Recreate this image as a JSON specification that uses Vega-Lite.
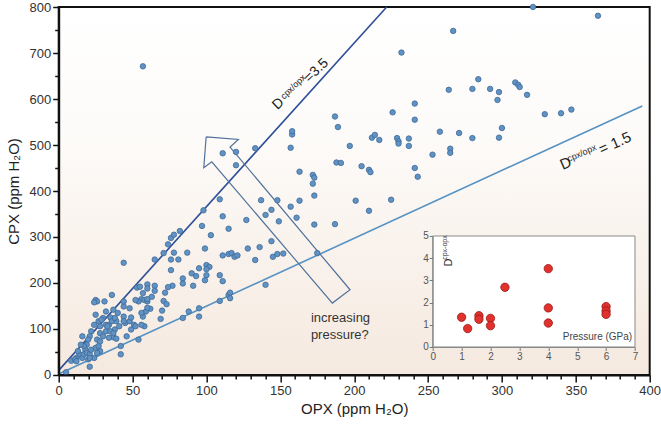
{
"$schema": "https://vega.github.io/schema/vega-lite/v6.json",
"width": 591, "height": 368,
"autosize": "none",
"padding": {"left": 58.7, "top": 7, "right": 11, "bottom": 49},
"background": "white",
"config": {
  "font": "Liberation Sans",
  "axis": {"grid": false},
  "view": {"stroke": "#111", "strokeWidth": 2,
    "fill": {"gradient": "linear", "x1": 0, "y1": 0, "x2": 0, "y2": 1,
      "stops": [{"offset": 0, "color": "#ffffff"}, {"offset": 0.35, "color": "#fdfbf9"}, {"offset": 1, "color": "#f5e9df"}]}}
},
"datasets": {
  "pts": [
{"opx":8.5,"cpx":31},{"opx":21,"cpx":18},{"opx":5,"cpx":6},{"opx":44,"cpx":244},{"opx":65,"cpx":251},{"opx":71,"cpx":265},{"opx":74,"cpx":284},{"opx":76,"cpx":298},{"opx":78,"cpx":305},{"opx":82,"cpx":313},{"opx":97,"cpx":324},{"opx":103,"cpx":304},{"opx":111,"cpx":345},{"opx":115,"cpx":318},{"opx":127,"cpx":337},{"opx":140,"cpx":348},{"opx":149,"cpx":334},{"opx":161,"cpx":342},{"opx":173,"cpx":327},{"opx":78,"cpx":266},{"opx":81,"cpx":251},{"opx":76,"cpx":251},{"opx":76,"cpx":228},{"opx":87,"cpx":266},{"opx":99,"cpx":275},{"opx":111,"cpx":260},{"opx":115,"cpx":263},{"opx":117,"cpx":265},{"opx":119,"cpx":257},{"opx":121,"cpx":260},{"opx":128,"cpx":275},{"opx":133,"cpx":250},{"opx":136,"cpx":278},{"opx":144,"cpx":291},{"opx":145,"cpx":257},{"opx":148,"cpx":263},{"opx":152,"cpx":264},{"opx":175,"cpx":265},{"opx":140,"cpx":196},{"opx":109,"cpx":161},{"opx":115,"cpx":174},{"opx":116,"cpx":167},{"opx":116,"cpx":179},{"opx":109,"cpx":217},{"opx":111,"cpx":204},{"opx":100,"cpx":239},{"opx":102,"cpx":235},{"opx":100,"cpx":230},{"opx":100,"cpx":217},{"opx":99,"cpx":206},{"opx":95,"cpx":232},{"opx":93,"cpx":215},{"opx":90,"cpx":221},{"opx":91,"cpx":194},{"opx":84,"cpx":210},{"opx":84,"cpx":199},{"opx":77,"cpx":194},{"opx":74,"cpx":191},{"opx":72,"cpx":179},{"opx":71,"cpx":161},{"opx":73,"cpx":154},{"opx":70,"cpx":140},{"opx":69,"cpx":122},{"opx":84,"cpx":124},{"opx":88,"cpx":138},{"opx":95,"cpx":127},{"opx":95,"cpx":145},{"opx":65,"cpx":194},{"opx":65,"cpx":183},{"opx":63,"cpx":170},{"opx":60,"cpx":197},{"opx":60,"cpx":188},{"opx":57,"cpx":178},{"opx":56,"cpx":165},{"opx":58,"cpx":163},{"opx":60,"cpx":160},{"opx":62,"cpx":144},{"opx":59,"cpx":138},{"opx":57,"cpx":127},{"opx":56,"cpx":135},{"opx":58,"cpx":106},{"opx":54,"cpx":160},{"opx":53,"cpx":190},{"opx":55,"cpx":192},{"opx":52,"cpx":163},{"opx":51,"cpx":109},{"opx":49,"cpx":99},{"opx":48,"cpx":145},{"opx":45,"cpx":113},{"opx":44,"cpx":127},{"opx":44,"cpx":149},{"opx":44,"cpx":160},{"opx":46,"cpx":84},{"opx":42,"cpx":63},{"opx":42,"cpx":45},{"opx":54,"cpx":77},{"opx":40,"cpx":135},{"opx":39,"cpx":117},{"opx":38,"cpx":99},{"opx":37,"cpx":82},{"opx":39,"cpx":79},{"opx":36,"cpx":174},{"opx":37,"cpx":142},{"opx":35,"cpx":125},{"opx":34,"cpx":109},{"opx":32,"cpx":138},{"opx":31,"cpx":160},{"opx":30,"cpx":124},{"opx":28,"cpx":106},{"opx":27,"cpx":117},{"opx":28,"cpx":91},{"opx":26,"cpx":77},{"opx":25,"cpx":163},{"opx":26,"cpx":160},{"opx":24,"cpx":158},{"opx":25,"cpx":131},{"opx":24,"cpx":109},{"opx":22,"cpx":95},{"opx":21,"cpx":84},{"opx":20,"cpx":77},{"opx":19,"cpx":66},{"opx":18,"cpx":55},{"opx":16,"cpx":84},{"opx":17,"cpx":63},{"opx":15,"cpx":66},{"opx":14,"cpx":45},{"opx":13,"cpx":52},{"opx":16,"cpx":37},{"opx":17,"cpx":45},{"opx":19,"cpx":48},{"opx":21,"cpx":45},{"opx":22,"cpx":55},{"opx":25,"cpx":59},{"opx":27,"cpx":63},{"opx":28,"cpx":73},{"opx":30,"cpx":84},{"opx":32,"cpx":95},{"opx":34,"cpx":81},{"opx":35,"cpx":95},{"opx":37,"cpx":91},{"opx":28,"cpx":52},{"opx":26,"cpx":48},{"opx":24,"cpx":37},{"opx":12,"cpx":37},{"opx":11,"cpx":34},{"opx":12,"cpx":30},{"opx":20,"cpx":34},{"opx":21,"cpx":37},{"opx":29,"cpx":120},{"opx":32,"cpx":109},{"opx":33,"cpx":106},{"opx":36,"cpx":117},{"opx":38,"cpx":124},{"opx":41,"cpx":106},{"opx":44,"cpx":117},{"opx":48,"cpx":117},{"opx":49,"cpx":125},{"opx":52,"cpx":106},{"opx":56,"cpx":109},{"opx":60,"cpx":146},{"opx":60,"cpx":165},
{"opx":111,"cpx":482},{"opx":120,"cpx":485},{"opx":133,"cpx":493},{"opx":120,"cpx":456},{"opx":158,"cpx":523},{"opx":157,"cpx":494},{"opx":189,"cpx":539},{"opx":197,"cpx":498},{"opx":163,"cpx":442},{"opx":172,"cpx":435},{"opx":173,"cpx":429},{"opx":172,"cpx":416},{"opx":173,"cpx":390},{"opx":188,"cpx":462},{"opx":191,"cpx":461},{"opx":201,"cpx":379},{"opx":109,"cpx":382},{"opx":98,"cpx":358},{"opx":137,"cpx":380},{"opx":148,"cpx":380},{"opx":163,"cpx":379},{"opx":157,"cpx":366},{"opx":144,"cpx":359},{"opx":187,"cpx":328},
{"opx":321,"cpx":800},{"opx":365,"cpx":781},{"opx":267,"cpx":748},{"opx":232,"cpx":701},{"opx":284,"cpx":643},{"opx":264,"cpx":620},{"opx":280,"cpx":622},{"opx":292,"cpx":622},{"opx":298,"cpx":615},{"opx":297,"cpx":598},{"opx":309,"cpx":636},{"opx":311,"cpx":631},{"opx":312,"cpx":626},{"opx":317,"cpx":609},{"opx":329,"cpx":567},{"opx":340,"cpx":569},{"opx":347,"cpx":577},{"opx":241,"cpx":590},{"opx":226,"cpx":571},{"opx":241,"cpx":555},{"opx":187,"cpx":562},{"opx":258,"cpx":529},{"opx":271,"cpx":526},{"opx":280,"cpx":515},{"opx":298,"cpx":516},{"opx":300,"cpx":537},{"opx":212,"cpx":516},{"opx":214,"cpx":522},{"opx":217,"cpx":511},{"opx":229,"cpx":515},{"opx":230,"cpx":508},{"opx":230,"cpx":503},{"opx":237,"cpx":514},{"opx":237,"cpx":498},{"opx":253,"cpx":479},{"opx":265,"cpx":492},{"opx":265,"cpx":483},{"opx":205,"cpx":454},{"opx":210,"cpx":446},{"opx":211,"cpx":441},{"opx":241,"cpx":450},{"opx":243,"cpx":431},{"opx":225,"cpx":381},{"opx":210,"cpx":357},
{"opx":57,"cpx":671},{"opx":158,"cpx":530}
  ],
  "lines": [
    {"opx": 0, "cpx": 10, "ratio": "3.5"}, {"opx": 222, "cpx": 800, "ratio": "3.5"},
    {"opx": 0, "cpx": 2, "ratio": "1.5"}, {"opx": 395, "cpx": 585, "ratio": "1.5"}
  ],
  "arrow": [
    {"i": 0, "opx": 99.8, "cpx": 517.7}, {"i": 1, "opx": 121.6, "cpx": 512.1}, {"i": 2, "opx": 116.0, "cpx": 495.5},
    {"i": 3, "opx": 197.2, "cpx": 185.3}, {"i": 4, "opx": 185.2, "cpx": 156.3}, {"i": 5, "opx": 103.6, "cpx": 463.6},
    {"i": 6, "opx": 98.2, "cpx": 450.6}, {"i": 7, "opx": 99.8, "cpx": 517.7}
  ],
  "lab35": [{"opx": 148.6, "cpx": 589.2, "t": "D"}, {"opx": 174.4, "cpx": 662.0, "t": "=3.5"}],
  "sup35": [{"opx": 158.6, "cpx": 626.5, "t": "cpx/opx"}],
  "lab15": [{"opx": 343.1, "cpx": 460.2, "t": "D"}, {"opx": 376.5, "cpx": 504.3, "t": "= 1.5"}],
  "sup15": [{"opx": 354.0, "cpx": 482.5, "t": "cpx/opx"}],
  "press": [{"opx": 170.7, "cpx": 123.2, "t": "increasing"}, {"opx": 170.7, "cpx": 86.4, "t": "pressure?"}],
  "inset": [
    {"p": 1.0, "d": 1.34}, {"p": 1.21, "d": 0.83}, {"p": 1.6, "d": 1.41}, {"p": 1.6, "d": 1.25}, {"p": 2.0, "d": 1.29},
    {"p": 2.0, "d": 0.96}, {"p": 2.5, "d": 2.69}, {"p": 4.0, "d": 3.53}, {"p": 4.0, "d": 1.76}, {"p": 4.0, "d": 1.08},
    {"p": 6.0, "d": 1.82}, {"p": 6.0, "d": 1.62}, {"p": 6.0, "d": 1.47}
  ],
  "frame": [{"p": 0, "p_end": 7, "d": 0, "d_end": 5}],
  "insetD": [{"p": 0.55, "d": 3.81, "t": "D"}],
  "insetSup": [{"p": 0.44, "d": 4.48, "t": "cpx-opx"}],
  "insetP": [{"p": 6.9, "d": 0.45, "t": "Pressure (GPa)"}]
},
"layer": [
  {
    "encoding": {
      "x": {"field": "opx", "type": "quantitative", "scale": {"domain": [0, 400], "nice": false},
        "axis": {"title": "OPX (ppm H₂O)", "values": [0,10,20,30,40,50,60,70,80,90,100,110,120,130,140,150,160,170,180,190,200,210,220,230,240,250,260,270,280,290,300,310,320,330,340,350,360,370,380,390,400],
          "labelExpr": "datum.value % 50 === 0 ? datum.label : ''", "format": "d",
          "tickSize": {"condition": {"test": "datum.value % 50 === 0", "value": 7}, "value": 4},
          "labelFlush": false, "labelOverlap": false, "domainColor": "#111", "domainWidth": 2,
          "tickColor": "#111", "tickWidth": 1.5, "labelFontSize": 13, "labelColor": "#333", "labelPadding": 3,
          "titleFontSize": 15, "titleFontWeight": "normal", "titleColor": "#222", "titlePadding": 4, "zindex": 1}},
      "y": {"field": "cpx", "type": "quantitative", "scale": {"domain": [0, 800], "nice": false},
        "axis": {"title": "CPX (ppm H₂O)", "values": [0,50,100,150,200,250,300,350,400,450,500,550,600,650,700,750,800],
          "labelExpr": "datum.value % 100 === 0 ? datum.label : ''", "format": "d",
          "tickSize": {"condition": {"test": "datum.value % 100 === 0", "value": 6}, "value": 4},
          "labelFlush": false, "labelOverlap": false, "domainColor": "#111", "domainWidth": 2,
          "tickColor": "#111", "tickWidth": 1.5, "labelFontSize": 13, "labelColor": "#333", "labelPadding": 2,
          "titleFontSize": 15, "titleFontWeight": "normal", "titleColor": "#222", "titlePadding": 8, "zindex": 1}}
    },
    "layer": [
      {
        "data": {"name": "lines"},
        "mark": {"type": "line", "strokeWidth": 1.6},
        "encoding": {
          "color": {"field": "ratio", "type": "nominal", "scale": {"domain": ["3.5", "1.5"], "range": ["#2d4f97", "#5592c3"]}, "legend": null}
        }
      },
      {
        "data": {"name": "arrow"},
        "mark": {"type": "line", "stroke": "#50729b", "strokeWidth": 1.2},
        "encoding": {
          "order": {"field": "i", "type": "quantitative"}
        }
      },
      {
        "data": {"name": "pts"},
        "mark": {"type": "circle", "size": 30, "fill": "#6092c4", "stroke": "#3d6a97", "strokeWidth": 0.8, "opacity": 1},
        "encoding": {}
      },
      {
        "data": {"name": "lab35"},
        "mark": {"type": "text", "angle": -44, "fontSize": 14, "color": "#222", "align": "center", "baseline": "middle"},
        "encoding": {"text": {"field": "t"}}
      },
      {
        "data": {"name": "sup35"},
        "mark": {"type": "text", "angle": -44, "fontSize": 9, "color": "#222", "align": "center", "baseline": "middle"},
        "encoding": {"text": {"field": "t"}}
      },
      {
        "data": {"name": "lab15"},
        "mark": {"type": "text", "angle": -24, "fontSize": 15, "color": "#222", "align": "center", "baseline": "middle"},
        "encoding": {"text": {"field": "t"}}
      },
      {
        "data": {"name": "sup15"},
        "mark": {"type": "text", "angle": -24, "fontSize": 9, "color": "#222", "align": "center", "baseline": "middle"},
        "encoding": {"text": {"field": "t"}}
      },
      {
        "data": {"name": "press"},
        "mark": {"type": "text", "fontSize": 13, "color": "#333", "align": "left", "baseline": "middle"},
        "encoding": {"text": {"field": "t"}}
      }
    ]
  },
  {
    "encoding": {
      "x": {"field": "p", "type": "quantitative", "scale": {"domain": [0, 7], "nice": false, "range": [374, 576.3]},
        "axis": {"title": null, "orient": "bottom", "offset": -28, "values": [0,0.5,1,1.5,2,2.5,3,3.5,4,4.5,5,5.5,6,6.5,7],
          "labelExpr": "datum.value % 1 === 0 ? datum.label : ''", "format": "d",
          "tickSize": {"condition": {"test": "datum.value % 1 === 0", "value": 3.5}, "value": 2},
          "labelFlush": false, "labelOverlap": false, "domainColor": "#8a8a8a", "tickColor": "#777",
          "labelFontSize": 10, "labelColor": "#555", "labelPadding": 1, "zindex": 2}},
      "y": {"field": "d", "type": "quantitative", "scale": {"domain": [0, 5], "nice": false, "range": [340, 229]},
        "axis": {"title": null, "orient": "left", "offset": -374, "values": [0,0.5,1,1.5,2,2.5,3,3.5,4,4.5,5],
          "labelExpr": "datum.value % 1 === 0 ? datum.label : ''", "format": "d",
          "tickSize": {"condition": {"test": "datum.value % 1 === 0", "value": 3.5}, "value": 2},
          "labelFlush": false, "labelOverlap": false, "domainColor": "#8a8a8a", "tickColor": "#777",
          "labelFontSize": 10, "labelColor": "#555", "labelPadding": 1, "zindex": 2}}
    },
    "layer": [
      {
        "data": {"name": "frame"},
        "mark": {"type": "rect", "fill": "#ffffff", "stroke": "#8a8a8a", "strokeWidth": 1},
        "encoding": {
          "x2": {"field": "p_end"},
          "y2": {"field": "d_end"}
        }
      },
      {
        "data": {"name": "inset"},
        "mark": {"type": "circle", "size": 70, "fill": "#e0312d", "stroke": "#9c1b17", "strokeWidth": 0.8, "opacity": 1},
        "encoding": {}
      },
      {
        "data": {"name": "insetD"},
        "mark": {"type": "text", "angle": -90, "fontSize": 11, "color": "#333", "align": "center", "baseline": "middle"},
        "encoding": {"text": {"field": "t"}}
      },
      {
        "data": {"name": "insetSup"},
        "mark": {"type": "text", "angle": -90, "fontSize": 7, "color": "#333", "align": "center", "baseline": "middle"},
        "encoding": {"text": {"field": "t"}}
      },
      {
        "data": {"name": "insetP"},
        "mark": {"type": "text", "fontSize": 10, "color": "#444", "align": "right", "baseline": "middle"},
        "encoding": {"text": {"field": "t"}}
      }
    ]
  }
],
"resolve": {"scale": {"x": "independent", "y": "independent", "color": "independent"}}
}
